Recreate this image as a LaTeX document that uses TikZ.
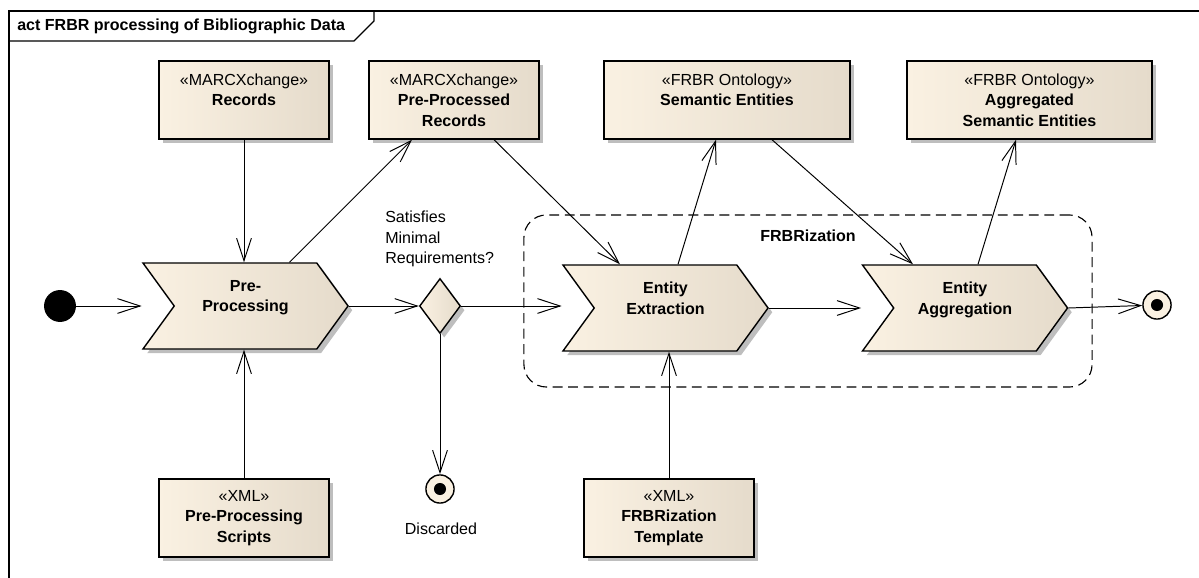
\documentclass[tikz,border=0pt]{standalone}
\usepackage{fontspec}
\setmainfont{Liberation Sans}
\usetikzlibrary{shapes.symbols,shapes.geometric,shadows,arrows.meta,calc,positioning}
\definecolor{boxL}{RGB}{250,241,226}
\definecolor{boxR}{RGB}{229,219,203}
\definecolor{shadowgrey}{RGB}{190,190,190}
\tikzstyle{shadowed} = [drop shadow={shadow xshift=3pt, shadow yshift=-3pt, fill=shadowgrey, opacity=1}]
\tikzstyle{obj} = [rectangle, draw, line width=1pt,
left color=boxL, right color=boxR, shadowed,
minimum width=4.25cm, minimum height=1.95cm,
inner sep=0pt, align=center]
\tikzstyle{action} = [signal, signal from=west, signal to=east,
signal pointer angle=108, draw, line width=1pt,
left color=boxL, right color=boxR, shadowed,
minimum width=5.125cm, minimum height=2.15cm,
inner sep=0pt, align=center, text depth=14pt]
\tikzstyle{decision} = [diamond, draw, line width=1pt, inner sep=0pt,
left color=boxL, right color=boxR, shadowed,
minimum width=1.025cm, minimum height=1.375cm]
\tikzstyle{final} = [circle, draw, line width=1pt, fill=boxL, minimum size=20pt, inner sep=0pt,
path picture={\fill[black] (path picture bounding box.center) circle (4.3pt);}]
\tikzstyle{flow} = [->, line width=0.7pt]

\begin{document}
\begin{tikzpicture}[x=0.025cm, y=-0.025cm, >={Straight Barb[length=16pt,width=10.5pt]},
  every node/.style={font=\fontsize{11.4}{14.6}\selectfont}]
  \useasboundingbox (0,0) rectangle (1199,578);

  % frame
  \draw[line width=0.8pt] (1199,11) -- (9,11) -- (9,578);
  \draw[line width=0.8pt] (9,41) -- (354,41) -- (374,21) -- (374,11);
  \node[anchor=west, inner sep=0pt] (title) at (17,26) {\textbf{act FRBR processing of Bibliographic Data}};

  % FRBRization region
  \node[draw, dashed, dash pattern=on 7pt off 4pt, rounded corners=16pt, line width=0.8pt,
    minimum width=14.2cm, minimum height=4.3cm] (frbr) at (808,301) {};
  \node (frbrlabel) at (808,236) {\textbf{FRBRization}};

  % objects
  \node[obj] (rec) at (244,100) {«MARCXchange»\\\textbf{Records}\\\mbox{}};
  \node[obj] (ppr) at (454,100) {«MARCXchange»\\\textbf{Pre-Processed}\\\textbf{Records}};
  \node[obj, minimum width=6.15cm] (sem) at (727,100) {«FRBR Ontology»\\\textbf{Semantic Entities}\\\mbox{}};
  \node[obj, minimum width=6.125cm] (agg) at (1029.5,100) {«FRBR Ontology»\\\textbf{Aggregated}\\\textbf{Semantic Entities}};
  \node[obj] (scr) at (244,518) {«XML»\\\textbf{Pre-Processing}\\\textbf{Scripts}};
  \node[obj] (tpl) at (669,518) {«XML»\\\textbf{FRBRization}\\\textbf{Template}};

  % activity nodes
  \node[circle, fill=black, minimum size=22.7pt, inner sep=0pt] (init) at (60,306) {};
  \node[action] (pre) at (245.5,306) {\textbf{Pre-}\\\textbf{Processing}};
  \node[decision] (dec) at (440,306) {};
  \node[anchor=west, align=left, inner sep=0pt] (cond) at (385,239) {Satisfies\\Minimal\\Requirements?};
  \node[final] (disc) at (440,489) {};
  \node (disclabel) at (441,529) {Discarded};
  \node[action] (ee) at (665.5,308) {\textbf{Entity}\\\textbf{Extraction}};
  \node[action] (ea) at (965,308) {\textbf{Entity}\\\textbf{Aggregation}};
  \node[final] (fin) at (1157,305) {};

  % flows
  \draw[flow] (init) -- (init -| pre.north west);
  \draw[flow] (rec) -- (rec |- pre.north);
  \draw[flow] (scr) -- (scr |- pre.south);
  \draw[flow] ($(pre.north)+(44,0)$) -- ($(ppr.south)+(-42,0)$);
  \draw[flow] (pre.east) -- (dec.west);
  \draw[flow] (dec.east) -- (dec.east -| ee.north west);
  \draw[flow] (dec) -- (disc);
  \draw[flow] ($(ppr.south)+(40,0)$) -- ($(ee.north)+(-45.5,0)$);
  \draw[flow] ($(ee.north)+(12.5,0)$) -- ($(sem.south)+(-11,0)$);
  \draw[flow] (tpl) -- (tpl |- ee.south);
  \draw[flow] (ee.east) -- (ee.east -| ea.north west);
  \draw[flow] ($(sem.south)+(45,0)$) -- ($(ea.north)+(-52,0)$);
  \draw[flow] ($(ea.north)+(13,0)$) -- ($(agg.south)+(-13.5,0)$);
  \draw[flow] (ea.east) -- (fin);
\end{tikzpicture}
\end{document}
